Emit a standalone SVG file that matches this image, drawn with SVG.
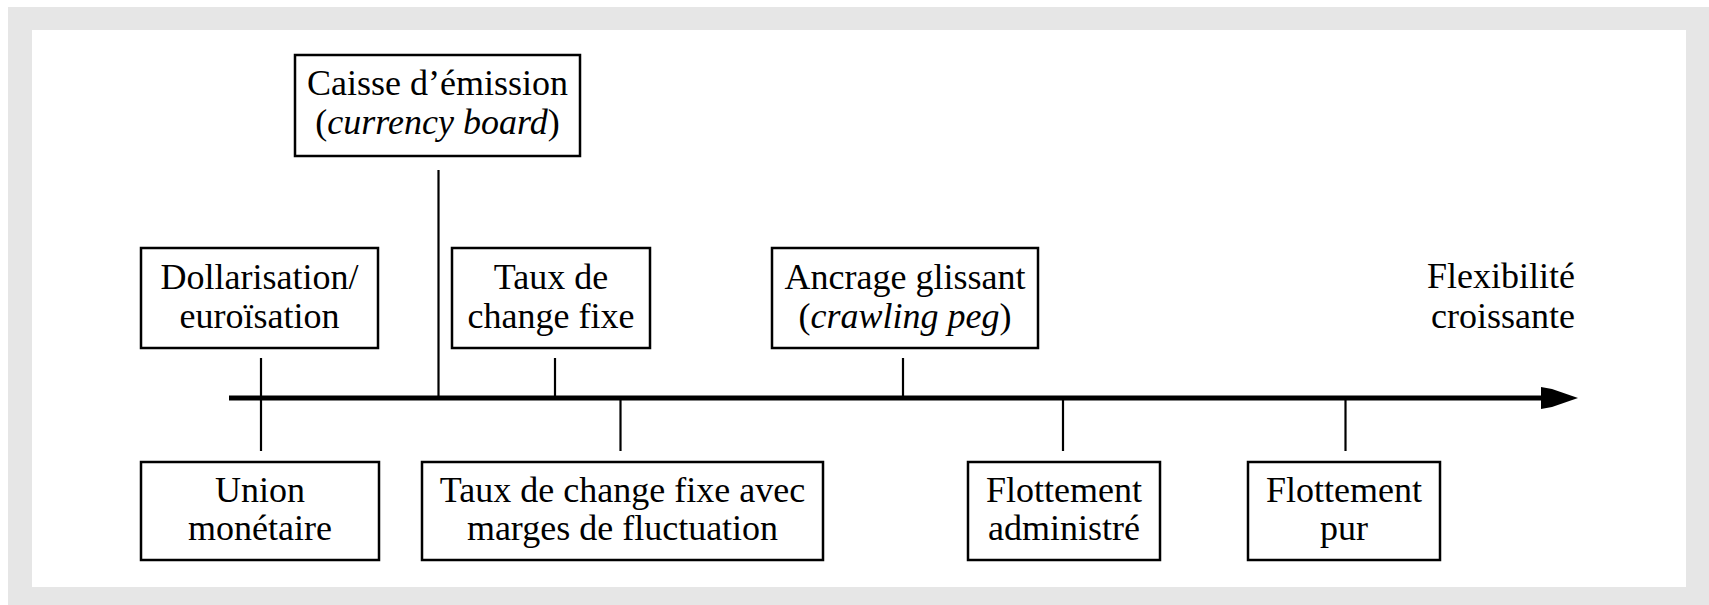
<svg xmlns="http://www.w3.org/2000/svg" width="1709" height="605" viewBox="0 0 1709 605">
<style>
.box{fill:#fff;stroke:#000;stroke-width:2.5}
.tick{stroke:#000;stroke-width:2.2;fill:none}
.axis{stroke:#000;stroke-width:5;fill:none}
text{font-family:"Liberation Serif","Times New Roman",serif;font-size:36px;fill:#000;text-anchor:middle}
.it{font-style:italic}
</style>
<rect x="0" y="0" width="1709" height="605" fill="#fff"/>
<rect x="8" y="7" width="1701" height="598" fill="#e6e6e6"/>
<rect x="32" y="30" width="1654" height="557" fill="#fff"/>
<g id="connectors">
<line class="axis" x1="229" y1="398" x2="1548" y2="398"/>
<polygon points="1541,387 1552,389 1578,398 1552,407 1541,409" fill="#000"/>
<line class="tick" x1="438.5" y1="170" x2="438.5" y2="398"/>
<line class="tick" x1="261" y1="358" x2="261" y2="451"/>
<line class="tick" x1="555" y1="358" x2="555" y2="398"/>
<line class="tick" x1="903" y1="358" x2="903" y2="398"/>
<line class="tick" x1="620.5" y1="398" x2="620.5" y2="451"/>
<line class="tick" x1="1063" y1="398" x2="1063" y2="451"/>
<line class="tick" x1="1345.5" y1="398" x2="1345.5" y2="451"/>
</g>
<g id="caisse">
<rect class="box" x="295" y="55" width="285" height="101"/>
<text x="437.5" y="95">Caisse d’émission</text>
<text x="437.5" y="133.5">(<tspan class="it">currency board</tspan>)</text>
</g>
<g id="dollarisation">
<rect class="box" x="141" y="248" width="237" height="100"/>
<text x="259.5" y="289">Dollarisation/</text>
<text x="259.5" y="328">euroïsation</text>
</g>
<g id="taux-fixe">
<rect class="box" x="452" y="248" width="198" height="100"/>
<text x="551" y="289">Taux de</text>
<text x="551" y="328">change fixe</text>
</g>
<g id="ancrage">
<rect class="box" x="772" y="248" width="266" height="100"/>
<text x="905" y="289">Ancrage glissant</text>
<text x="905" y="328">(<tspan class="it">crawling peg</tspan>)</text>
</g>
<g id="flexibilite">
<text x="1575" y="288" style="text-anchor:end">Flexibilité</text>
<text x="1575" y="328" style="text-anchor:end">croissante</text>
</g>
<g id="union">
<rect class="box" x="141" y="462" width="238" height="98"/>
<text x="260" y="502">Union</text>
<text x="260" y="540">monétaire</text>
</g>
<g id="marges">
<rect class="box" x="422" y="462" width="401" height="98"/>
<text x="622.5" y="502">Taux de change fixe avec</text>
<text x="622.5" y="540">marges de fluctuation</text>
</g>
<g id="flottement-administre">
<rect class="box" x="968" y="462" width="192" height="98"/>
<text x="1064" y="502">Flottement</text>
<text x="1064" y="540">administré</text>
</g>
<g id="flottement-pur">
<rect class="box" x="1248" y="462" width="192" height="98"/>
<text x="1344" y="502">Flottement</text>
<text x="1344" y="540">pur</text>
</g>
</svg>
